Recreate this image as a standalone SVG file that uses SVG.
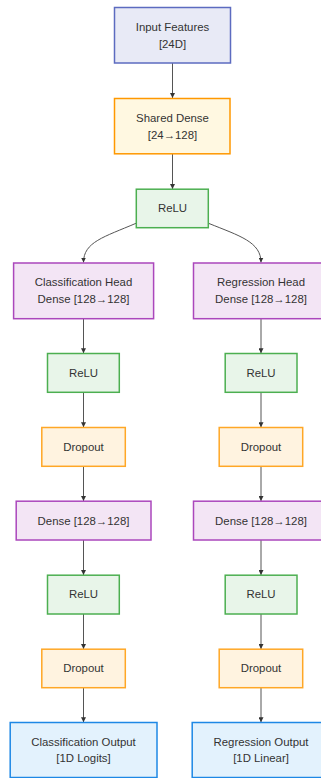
<svg xmlns="http://www.w3.org/2000/svg" width="321" height="778" viewBox="0 0 321 778">
  <defs>
    <marker id="arrow" viewBox="0 0 10 10" refX="10" refY="5" markerWidth="5" markerHeight="5" markerUnits="userSpaceOnUse" orient="auto">
      <path d="M0,0 L10,5 L0,10 z" fill="#333"/>
    </marker>
    <style>
      rect { stroke-width: 1.5; }
      .input { fill: #e8eaf6; stroke: #5c6bc0; }
      .shared { fill: #fff8e1; stroke: #ff9800; }
      .relu { fill: #e8f5e9; stroke: #4caf50; }
      .dense { fill: #f3e5f5; stroke: #ab47bc; }
      .drop { fill: #fff3e0; stroke: #ffa726; }
      .out { fill: #e3f2fd; stroke: #1e88e5; }
      text { font-family: "Liberation Sans", Arial, sans-serif; font-size: 11.4px; fill: #333; text-anchor: middle; }
      .edge { fill: none; stroke: #555; stroke-width: 1; marker-end: url(#arrow); }
    </style>
  </defs>
  <rect width="321" height="778" fill="#ffffff"/>

  <g id="connectors">
    <path class="edge" d="M172.5,63 L172.5,98"/>
    <path class="edge" d="M172.5,154 L172.5,189"/>
    <path class="edge" d="M136,223.3 C104,237 83.5,242 83.5,262.5"/>
    <path class="edge" d="M208.5,223.3 C240,236 261,242 261,262.5"/>
    <path class="edge" d="M83.5,318.7 L83.5,353.3"/>
    <path class="edge" d="M83.5,392.3 L83.5,427.3"/>
    <path class="edge" d="M83.5,466.3 L83.5,501"/>
    <path class="edge" d="M83.5,540 L83.5,575"/>
    <path class="edge" d="M83.5,614 L83.5,649"/>
    <path class="edge" d="M83.5,687.7 L83.5,722.3"/>
    <path class="edge" d="M261,318.7 L261,353.3"/>
    <path class="edge" d="M261,392.3 L261,427.3"/>
    <path class="edge" d="M261,466.3 L261,501"/>
    <path class="edge" d="M261,540 L261,575"/>
    <path class="edge" d="M261,614 L261,649"/>
    <path class="edge" d="M261,687.7 L261,722.3"/>
  </g>

  <g id="input">
    <rect class="input" x="114.5" y="7.5" width="116" height="55.5"/>
    <text x="172.5" y="30.8">Input Features</text>
    <text x="172.5" y="48.4">[24D]</text>
  </g>
  <g id="shared-dense">
    <rect class="shared" x="114.5" y="98.5" width="115.5" height="55.3"/>
    <text x="172.5" y="121.8">Shared Dense</text>
    <text x="172.5" y="139.1">[24→128]</text>
  </g>
  <g id="shared-relu">
    <rect class="relu" x="136.3" y="189.2" width="72" height="38.5"/>
    <text x="172.5" y="212.4">ReLU</text>
  </g>

  <g id="cls-head">
    <rect class="dense" x="13.6" y="263" width="140" height="55.7"/>
    <text x="83.5" y="286.4">Classification Head</text>
    <text x="83.5" y="303.4">Dense [128→128]</text>
  </g>
  <g id="cls-relu1">
    <rect class="relu" x="47.5" y="353.5" width="71.8" height="38.8"/>
    <text x="83.5" y="377.4">ReLU</text>
  </g>
  <g id="cls-drop1">
    <rect class="drop" x="41.8" y="427.5" width="83.5" height="38.8"/>
    <text x="83.5" y="451.1">Dropout</text>
  </g>
  <g id="cls-dense2">
    <rect class="dense" x="16.2" y="501.2" width="134.8" height="38.8"/>
    <text x="83.5" y="524.8">Dense [128→128]</text>
  </g>
  <g id="cls-relu2">
    <rect class="relu" x="47.5" y="575.2" width="71.8" height="38.8"/>
    <text x="83.5" y="598.4">ReLU</text>
  </g>
  <g id="cls-drop2">
    <rect class="drop" x="41.8" y="649.2" width="83.5" height="38.5"/>
    <text x="83.5" y="672.4">Dropout</text>
  </g>
  <g id="cls-output">
    <rect class="out" x="10.2" y="722.5" width="146.8" height="55"/>
    <text x="83.5" y="746.4">Classification Output</text>
    <text x="83.5" y="762.4">[1D Logits]</text>
  </g>

  <g id="reg-head">
    <rect class="dense" x="193.5" y="263" width="135.5" height="55.7"/>
    <text x="261" y="286.4">Regression Head</text>
    <text x="261" y="303.4">Dense [128→128]</text>
  </g>
  <g id="reg-relu1">
    <rect class="relu" x="225.2" y="353.5" width="71.8" height="38.8"/>
    <text x="261" y="377.4">ReLU</text>
  </g>
  <g id="reg-drop1">
    <rect class="drop" x="219.2" y="427.5" width="83.5" height="38.8"/>
    <text x="261" y="451.1">Dropout</text>
  </g>
  <g id="reg-dense2">
    <rect class="dense" x="193.5" y="501.2" width="135.5" height="38.8"/>
    <text x="261" y="524.8">Dense [128→128]</text>
  </g>
  <g id="reg-relu2">
    <rect class="relu" x="225.2" y="575.2" width="71.8" height="38.8"/>
    <text x="261" y="598.4">ReLU</text>
  </g>
  <g id="reg-drop2">
    <rect class="drop" x="219.2" y="649.2" width="83.5" height="38.5"/>
    <text x="261" y="672.4">Dropout</text>
  </g>
  <g id="reg-output">
    <rect class="out" x="192.2" y="722.5" width="137.6" height="55"/>
    <text x="261" y="746.4">Regression Output</text>
    <text x="261" y="762.4">[1D Linear]</text>
  </g>
</svg>
